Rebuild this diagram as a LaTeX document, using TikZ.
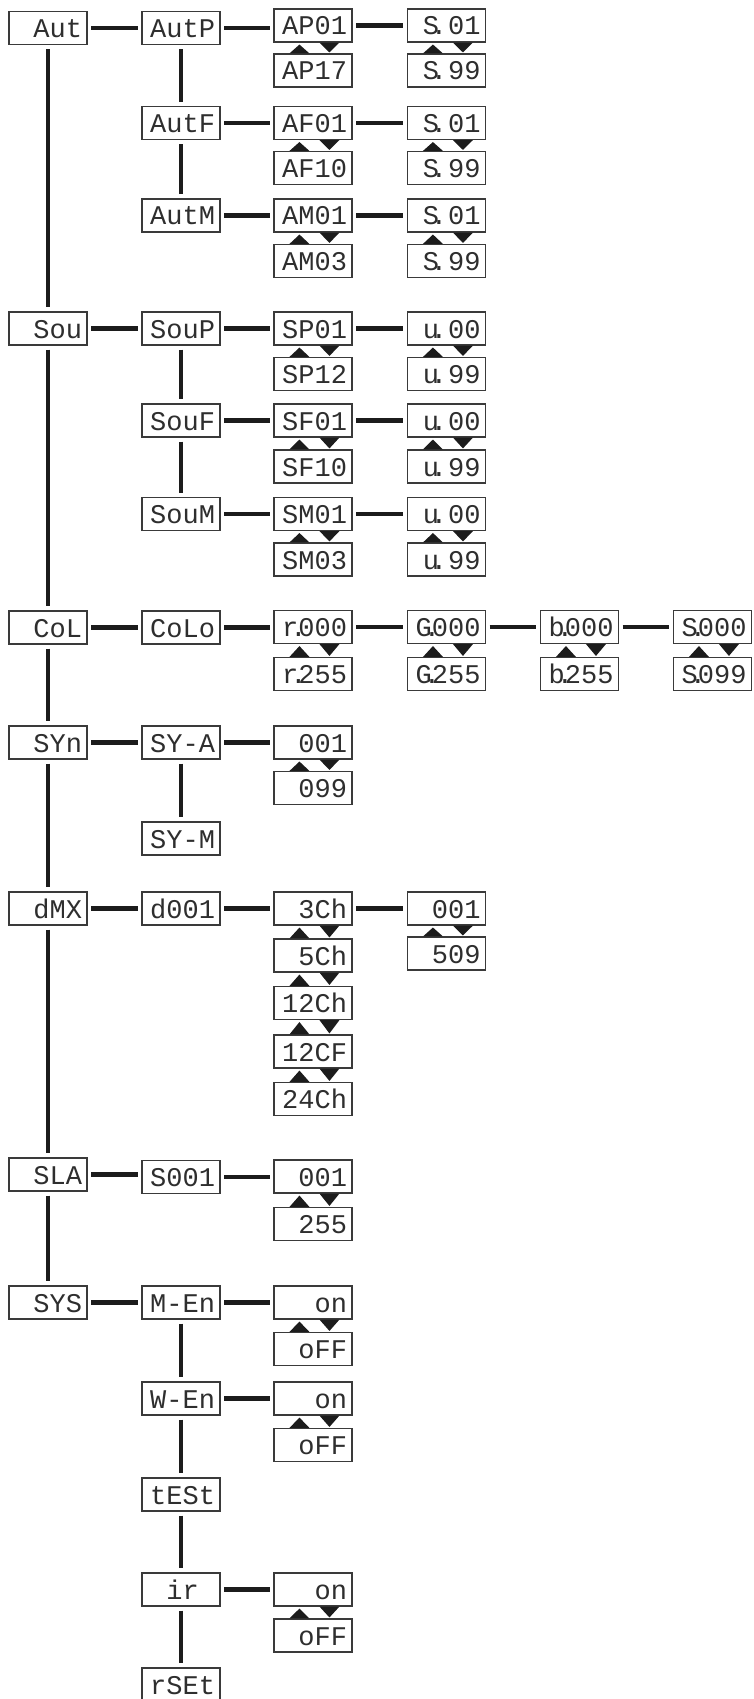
\documentclass[tikz,border=0pt]{standalone}
\usepackage{fontspec}
\newfontfamily\lcd{Liberation Mono}
\usetikzlibrary{calc}
\definecolor{boxc}{HTML}{3A3A3A}
\definecolor{linec}{HTML}{1C1C1C}
\definecolor{txtc}{HTML}{2E2E2E}
\newcommand\lcdfont{\lcd\fontsize{27}{30}\selectfont\exhyphenpenalty=10000 \hyphenpenalty=10000 }
\newcommand\dpt{\makebox[0pt]{.}}
\newcommand\updn[2]{%
  \fill[linec] ($(#2.north west)+(16,0)$) -- ($(#2.north west)+(36,0)$) -- ($(#1.south west)+(26,2)$) -- cycle;
  \fill[linec] ($(#1.south west)+(46,0)$) -- ($(#1.south west)+(66,0)$) -- ($(#2.north west)+(56,-1)$) -- cycle;}
\newcommand\hconn[2]{\draw[conn] (#1.east) -- (#1.east -| #2.west);}
\newcommand\vconn[2]{\draw[vconnst] (#1.south) -- (#1.south |- #2.north);}
\begin{document}
\begin{tikzpicture}[x=1pt,y=-1pt,
  disp/.style={draw=boxc, line width=1.1pt, fill=white, minimum width=78pt,
    minimum height=33pt, inner xsep=5pt, inner ysep=0pt, text width=68pt,
    align=right, text height=19pt, text depth=0pt,
    font=\lcdfont, text=txtc},
  conn/.style={line width=4.3pt, draw=linec, shorten <=3.5pt, shorten >=3.5pt},
  vconnst/.style={line width=4.3pt, draw=linec, shorten <=4pt, shorten >=4pt}]
\useasboundingbox[fill=white] (0,0) rectangle (753,1699);
% ---- Aut
\node[disp] (aut)  at (48,28)   {Aut};
\node[disp] (autp) at (181,28)  {AutP};
\node[disp] (ap01) at (313,25.5){AP01};
\node[disp] (ap17) at (313,70.5){AP17};
\node[disp] (s01a) at (446.5,25.5){S\dpt\ 01};
\node[disp] (s99a) at (446.5,70.5){S\dpt\ 99};
\node[disp] (autf) at (181,123) {AutF};
\node[disp] (af01) at (313,123) {AF01};
\node[disp] (af10) at (313,168) {AF10};
\node[disp] (s01b) at (446.5,123){S\dpt\ 01};
\node[disp] (s99b) at (446.5,168){S\dpt\ 99};
\node[disp] (autm) at (181,215.5){AutM};
\node[disp] (am01) at (313,215.5){AM01};
\node[disp] (am03) at (313,261) {AM03};
\node[disp] (s01c) at (446.5,215.5){S\dpt\ 01};
\node[disp] (s99c) at (446.5,261){S\dpt\ 99};
% ---- Sou
\node[disp] (sou)  at (48,328.5) {Sou};
\node[disp] (soup) at (181,328.5){SouP};
\node[disp] (sp01) at (313,328.5){SP01};
\node[disp] (sp12) at (313,374)  {SP12};
\node[disp] (u00a) at (446.5,328.5){u\dpt\ 00};
\node[disp] (u99a) at (446.5,374){u\dpt\ 99};
\node[disp] (souf) at (181,420.5){SouF};
\node[disp] (sf01) at (313,420.5){SF01};
\node[disp] (sf10) at (313,466.5){SF10};
\node[disp] (u00b) at (446.5,420.5){u\dpt\ 00};
\node[disp] (u99b) at (446.5,466.5){u\dpt\ 99};
\node[disp] (soum) at (181,514)  {SouM};
\node[disp] (sm01) at (313,514)  {SM01};
\node[disp] (sm03) at (313,559.5){SM03};
\node[disp] (u00c) at (446.5,514){u\dpt\ 00};
\node[disp] (u99c) at (446.5,559.5){u\dpt\ 99};
% ---- CoL
\node[disp] (col)  at (48,627.5) {CoL};
\node[disp] (colo) at (181,627.5){CoLo};
\node[disp] (r000) at (313,627)  {r\dpt 000};
\node[disp] (r255) at (313,674)  {r\dpt 255};
\node[disp] (g000) at (446.5,627){G\dpt 000};
\node[disp] (g255) at (446.5,674){G\dpt 255};
\node[disp] (b000) at (579.5,627){b\dpt 000};
\node[disp] (b255) at (579.5,674){b\dpt 255};
\node[disp] (s000) at (712.5,627){S\dpt 000};
\node[disp] (s099) at (712.5,674){S\dpt 099};
% ---- SYn
\node[disp] (syn)  at (48,742.5) {SYn};
\node[disp] (sya)  at (181,742.5){\mbox{SY-A}};
\node[disp] (n001) at (313,742.5){001};
\node[disp] (n099) at (313,788)  {099};
\node[disp] (sym)  at (181,838.5){\mbox{SY-M}};
% ---- dMX
\node[disp] (dmx)  at (48,908.5) {dMX};
\node[disp] (d001) at (181,908.5){d001};
\node[disp] (ch3)  at (313,908.5){3Ch};
\node[disp] (ch5)  at (313,955.5){5Ch};
\node[disp] (ch12) at (313,1003) {12Ch};
\node[disp] (cf12) at (313,1051.5){12CF};
\node[disp] (ch24) at (313,1099) {24Ch};
\node[disp] (a001) at (446.5,908.5){001};
\node[disp] (a509) at (446.5,953.5){509};
% ---- SLA
\node[disp] (sla)  at (48,1174.5){SLA};
\node[disp] (s001) at (181,1177) {S001};
\node[disp] (b001) at (313,1176.5){001};
\node[disp] (b255x) at (313,1224){255};
% ---- SYS
\node[disp] (sys)  at (48,1302.5){SYS};
\node[disp] (men)  at (181,1302.5){\mbox{M-En}};
\node[disp] (on1)  at (313,1302.5){on};
\node[disp] (off1) at (313,1349) {oFF};
\node[disp] (wen)  at (181,1398.5){\mbox{W-En}};
\node[disp] (on2)  at (313,1398.5){on};
\node[disp] (off2) at (313,1445) {oFF};
\node[disp] (test) at (181,1494.5){tESt};
\node[disp] (ir)   at (181,1589.5){ir\hphantom{0}};
\node[disp] (on3)  at (313,1589.5){on};
\node[disp] (off3) at (313,1635.5){oFF};
\node[disp] (rset) at (181,1684.5){rSEt};
% ---- horizontal connectors
\hconn{aut}{autp}\hconn{autp}{ap01}\hconn{ap01}{s01a}
\hconn{autf}{af01}\hconn{af01}{s01b}
\hconn{autm}{am01}\hconn{am01}{s01c}
\hconn{sou}{soup}\hconn{soup}{sp01}\hconn{sp01}{u00a}
\hconn{souf}{sf01}\hconn{sf01}{u00b}
\hconn{soum}{sm01}\hconn{sm01}{u00c}
\hconn{col}{colo}\hconn{colo}{r000}\hconn{r000}{g000}\hconn{g000}{b000}\hconn{b000}{s000}
\hconn{syn}{sya}\hconn{sya}{n001}
\hconn{dmx}{d001}\hconn{d001}{ch3}\hconn{ch3}{a001}
\hconn{sla}{s001}\hconn{s001}{b001}
\hconn{sys}{men}\hconn{men}{on1}
\hconn{wen}{on2}
\hconn{ir}{on3}
% ---- vertical connectors
\vconn{aut}{sou}\vconn{sou}{col}\vconn{col}{syn}\vconn{syn}{dmx}\vconn{dmx}{sla}\vconn{sla}{sys}
\vconn{autp}{autf}\vconn{autf}{autm}
\vconn{soup}{souf}\vconn{souf}{soum}
\vconn{sya}{sym}
\vconn{men}{wen}\vconn{wen}{test}\vconn{test}{ir}\vconn{ir}{rset}
% ---- up/down arrows
\updn{ap01}{ap17}\updn{s01a}{s99a}
\updn{af01}{af10}\updn{s01b}{s99b}
\updn{am01}{am03}\updn{s01c}{s99c}
\updn{sp01}{sp12}\updn{u00a}{u99a}
\updn{sf01}{sf10}\updn{u00b}{u99b}
\updn{sm01}{sm03}\updn{u00c}{u99c}
\updn{r000}{r255}\updn{g000}{g255}\updn{b000}{b255}\updn{s000}{s099}
\updn{n001}{n099}
\updn{ch3}{ch5}\updn{ch5}{ch12}\updn{ch12}{cf12}\updn{cf12}{ch24}
\updn{a001}{a509}
\updn{b001}{b255x}
\updn{on1}{off1}\updn{on2}{off2}\updn{on3}{off3}
\end{tikzpicture}
\end{document}
